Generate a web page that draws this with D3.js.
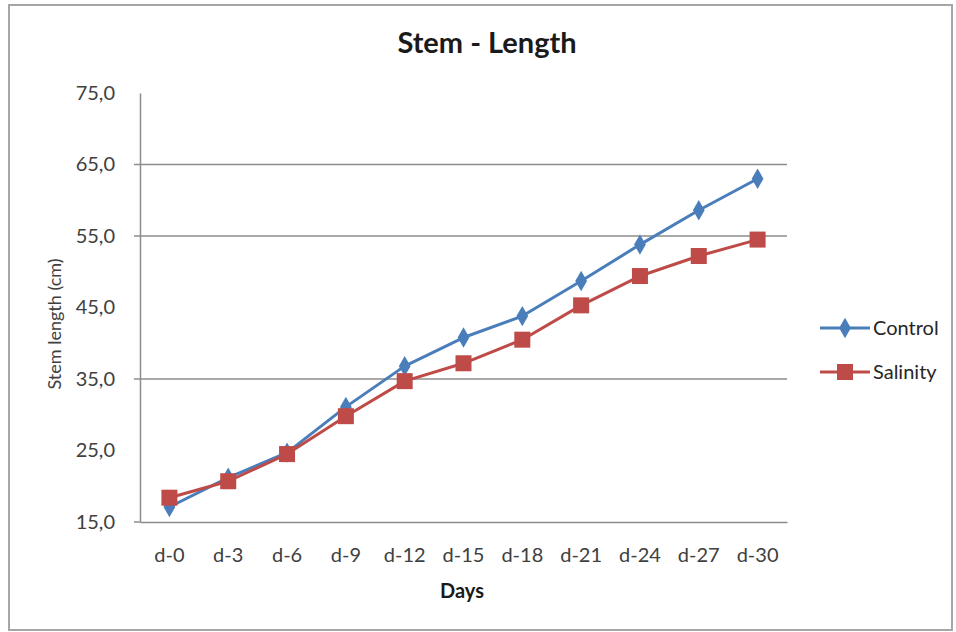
<!DOCTYPE html>
<html>
<head>
<meta charset="utf-8">
<script src="https://cdn.jsdelivr.net/npm/d3@7"></script>
<style>
  html, body { margin: 0; padding: 0; background: #fff; }
  svg { display: block; }
  text { font-family: Lato, "Open Sans", sans-serif; }
</style>
</head>
<body>
<svg id="chart" width="956" height="632"></svg>
<script>
// Stem length over days, control vs. salinity treatment
const days = ["d-0", "d-3", "d-6", "d-9", "d-12", "d-15", "d-18", "d-21", "d-24", "d-27", "d-30"];
const control = [17.1, 21.2, 24.7, 31.1, 36.8, 40.8, 43.8, 48.7, 53.8, 58.6, 63.0];
const salinity = [18.4, 20.7, 24.5, 29.8, 34.7, 37.2, 40.5, 45.3, 49.4, 52.2, 54.5];
const yTicks = [15, 25, 35, 45, 55, 65, 75];
const gridValues = [35, 55, 65];
const seriesNames = ["Control", "Salinity"];
const seriesColors = ["#4a7ebb", "#be4b48"];

const svg = d3.select("#chart");

// outer frame
svg.append("rect")
  .attr("x", 9).attr("y", 5).attr("width", 943).attr("height", 625)
  .attr("fill", "#fff").attr("stroke", "#a6a6a6").attr("stroke-width", 2);

const plot = { left: 140, right: 787, top: 93, bottom: 522 };

const x = d3.scaleBand().domain(days).range([plot.left, plot.right]);
const y = d3.scaleLinear().domain([15, 75]).range([plot.bottom, plot.top]);
const cx = d => x(d) + x.bandwidth() / 2;

// horizontal gridlines
svg.append("g").selectAll("line").data(gridValues).join("line")
  .attr("x1", plot.left).attr("x2", plot.right)
  .attr("y1", d => y(d)).attr("y2", d => y(d))
  .attr("stroke", "#8c8c8c").attr("stroke-width", 1.5);

// y axis
const yAxis = svg.append("g")
  .attr("transform", `translate(${plot.left},0)`)
  .call(d3.axisLeft(y).tickValues(yTicks)
    .tickFormat(d => d3.format(".1f")(d).replace(".", ","))
    .tickSize(0).tickPadding(25));
yAxis.select(".domain").attr("stroke", "#8c8c8c").attr("stroke-width", 1.5);
yAxis.selectAll("text").attr("font-size", 20).attr("fill", "#404040");
// small tick marks on the y axis
svg.append("g").selectAll("line").data([15].concat(gridValues)).join("line")
  .attr("x1", plot.left - 6).attr("x2", plot.left)
  .attr("y1", d => y(d)).attr("y2", d => y(d))
  .attr("stroke", "#8c8c8c").attr("stroke-width", 1.5);

// x axis
const xAxis = svg.append("g")
  .attr("transform", `translate(0,${plot.bottom})`)
  .call(d3.axisBottom(x).tickSize(0).tickPadding(26));
xAxis.select(".domain").attr("stroke", "#8c8c8c").attr("stroke-width", 1.5);
xAxis.selectAll("text").attr("font-size", 20).attr("fill", "#404040");

// title and axis titles
svg.append("text").attr("x", 487).attr("y", 53).attr("text-anchor", "middle")
  .attr("font-size", 29).attr("font-weight", "bold").attr("fill", "#1a1a1a")
  .text("Stem - Length");
svg.append("text").attr("x", 462).attr("y", 598).attr("text-anchor", "middle")
  .attr("font-size", 20).attr("font-weight", "bold").attr("fill", "#1a1a1a")
  .text("Days");
svg.append("text")
  .attr("transform", "translate(61,324) rotate(-90)")
  .attr("text-anchor", "middle").attr("font-size", 18).attr("fill", "#404040")
  .text("Stem length (cm)");

const line = d3.line().x((d, i) => cx(days[i])).y(d => y(d));
const diamond = d3.symbol().type(d3.symbolDiamond).size(120);

function drawMarker(g, kind, px, py, color) {
  if (kind === 0) {
    g.append("path").attr("d", diamond()).attr("transform", `translate(${px},${py})`)
      .attr("fill", color);
  } else {
    g.append("rect").attr("x", px - 8).attr("y", py - 8).attr("width", 16).attr("height", 16)
      .attr("fill", color);
  }
}

[control, salinity].forEach((vals, k) => {
  const g = svg.append("g");
  g.append("path").datum(vals).attr("d", line)
    .attr("fill", "none").attr("stroke", seriesColors[k]).attr("stroke-width", 3)
    .attr("stroke-linejoin", "round");
  vals.forEach((v, i) => drawMarker(g, k, cx(days[i]), y(v), seriesColors[k]));
});

// legend
const legendY = [328, 372];
seriesNames.forEach((name, k) => {
  const g = svg.append("g");
  g.append("line").attr("x1", 820).attr("x2", 870)
    .attr("y1", legendY[k]).attr("y2", legendY[k])
    .attr("stroke", seriesColors[k]).attr("stroke-width", 3);
  drawMarker(g, k, 845, legendY[k], seriesColors[k]);
  g.append("text").attr("x", 873).attr("y", legendY[k] + 7)
    .attr("font-size", 20).attr("fill", "#262626").text(name);
});
</script>
</body>
</html>
